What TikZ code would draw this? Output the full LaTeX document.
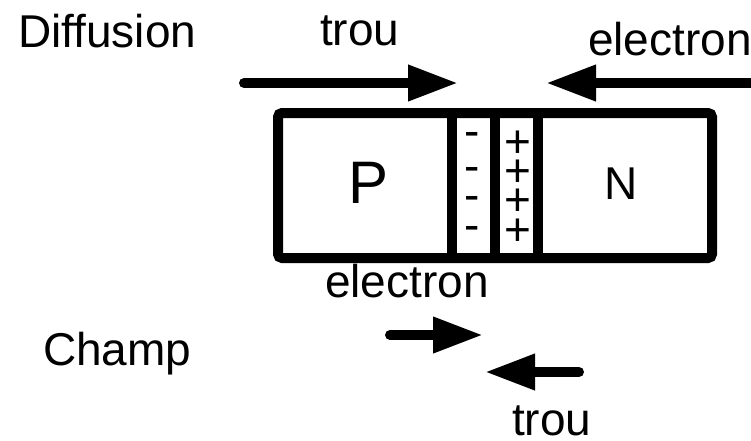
\documentclass[tikz,border=0pt]{standalone}
\usepackage{fontspec}
\setmainfont{Liberation Sans}
\usetikzlibrary{arrows.meta}

\tikzset{
  txt/.style={anchor=base west, inner sep=0pt, font=\fontsize{46}{50}\selectfont},
  sign/.style={anchor=base, inner sep=0pt, font=\fontsize{46}{50}\selectfont},
  wall/.style={line width=10pt},
  flow/.style={line width=10pt, line cap=round, -{Triangle[length=50pt,width=34pt]}},
}

\begin{document}
\begin{tikzpicture}[x=1pt,y=-1pt]
  \useasboundingbox (0,0) rectangle (751,440);

  % junction block
  \draw[wall, rounded corners=4pt] (278,113) rectangle (712,258);
  \draw[wall] (452,113) -- (452,258);
  \draw[wall] (495,113) -- (495,258);
  \draw[wall] (538,113) -- (538,258);
  \node[sign, font=\fontsize{60}{64}\selectfont] (pzone) at (369,203) {P};
  \node[sign] (nzone) at (621,199) {N};

  % space charge
  \foreach \y [count=\i] in {146,181,210,240}
    \node[sign] (minus\i) at (472,\y) {-};
  \foreach \y [count=\i] in {157,186,215,245}
    \node[sign] (plus\i) at (518,\y) {+};

  % labels
  \node[txt] (diff) at (18,47) {Diffusion};
  \node[txt] (trouA) at (320,45) {trou};
  \node[txt] (elecA) at (588,55) {electron};
  \node[txt] (elecB) at (325,297) {electron};
  \node[txt] (champ) at (43,365) {Champ};
  \node[txt] (trouB) at (512,435) {trou};

  % arrows
  \coordinate (hs) at (244,83);
  \coordinate (he) at (458,83);
  \coordinate (es) at (770,83);
  \coordinate (ee) at (546,83);
  \coordinate (fs) at (390,335);
  \coordinate (fe) at (483,335);
  \coordinate (gs) at (579,372);
  \coordinate (ge) at (485,372);
  \draw[flow] (hs) -- (he);
  \draw[flow] (es) -- (ee);
  \draw[flow] (fs) -- (fe);
  \draw[flow] (gs) -- (ge);
\end{tikzpicture}
\end{document}
